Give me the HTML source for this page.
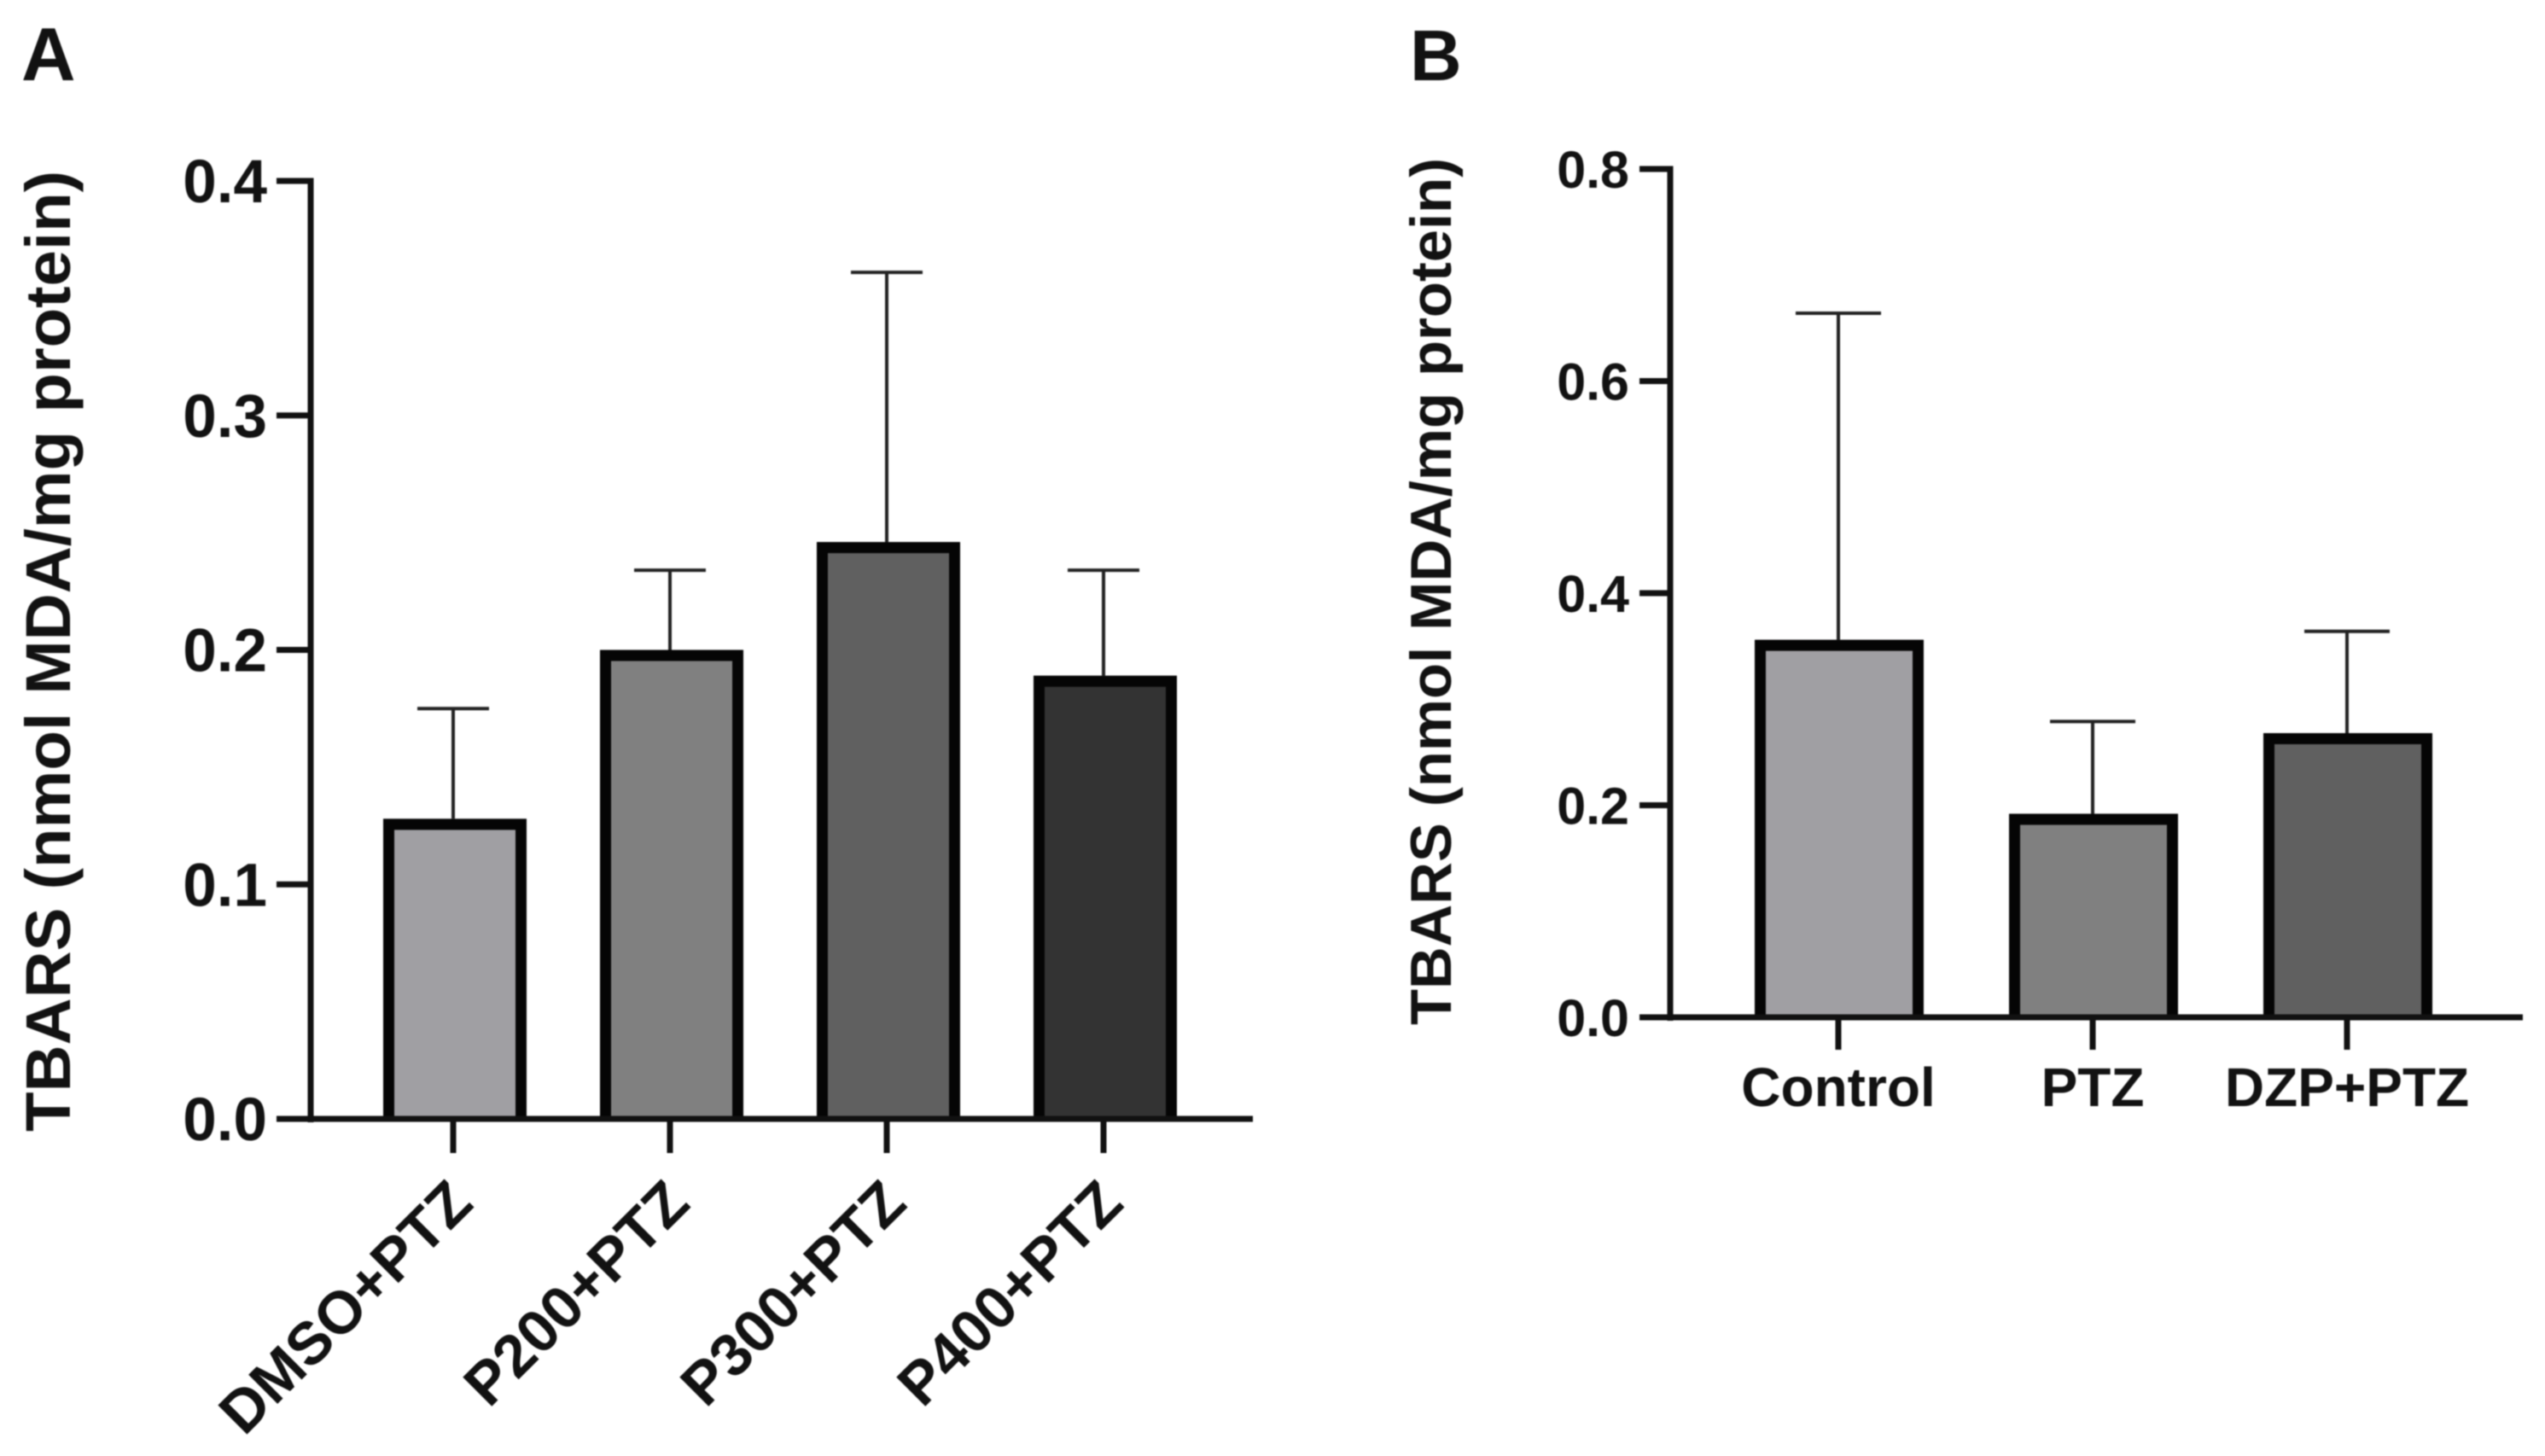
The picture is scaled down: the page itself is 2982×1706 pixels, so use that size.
<!DOCTYPE html>
<html>
<head>
<meta charset="utf-8">
<style>
html,body{margin:0;padding:0;background:#fff;}
svg{display:block;filter:blur(0.8px);}
text{font-family:"Liberation Sans",Arial,sans-serif;font-weight:bold;fill:#121212;}
</style>
</head>
<body>
<svg id="figure" xmlns="http://www.w3.org/2000/svg" width="2982" height="1706" viewBox="0 0 2982 1706">
<rect width="2982" height="1706" fill="#ffffff"/>
<text x="25" y="94" font-size="88">A</text>
<text x="1652" y="94" font-size="84">B</text>
<text transform="translate(82,763) rotate(-90)" text-anchor="middle" font-size="74" textLength="1126" lengthAdjust="spacingAndGlyphs">TBARS (nmol MDA/mg protein)</text>
<text transform="translate(1700,693) rotate(-90)" text-anchor="middle" font-size="68" textLength="1016" lengthAdjust="spacingAndGlyphs">TBARS (nmol MDA/mg protein)</text>
<g id="panel-a"></g>
<g id="panel-b"></g>
</svg>
<script>
const categoriesA = ['DMSO+PTZ', 'P200+PTZ', 'P300+PTZ', 'P400+PTZ'];
const meansA = [0.128, 0.2, 0.246, 0.189];
const errorTopsA = [0.175, 0.234, 0.361, 0.234];
const tickLabelsA = ['0.0', '0.1', '0.2', '0.3', '0.4'];
const categoriesB = ['Control', 'PTZ', 'DZP+PTZ'];
const meansB = [0.356, 0.192, 0.268];
const errorTopsB = [0.664, 0.279, 0.364];
const tickLabelsB = ['0.0', '0.2', '0.4', '0.6', '0.8'];
const fills = ['#a09fa3', '#808080', '#606060', '#333333'];

const NS = 'http://www.w3.org/2000/svg';

function make(parent, tag, attrs, name) {
  const el = document.createElementNS(NS, tag);
  for (const k in attrs) el.setAttribute(k, attrs[k]);
  
  
  parent.appendChild(el);
  return el;
}

function drawPanel(cfg) {
  const g = document.getElementById(cfg.id);
  const yScale = v => cfg.y0 + (cfg.y1 - cfg.y0) * (v - cfg.min) / (cfg.max - cfg.min);
  const xScale = i => cfg.x0 + cfg.step * i;

  cfg.means.forEach((m, i) => {
    const cx = xScale(i);
    const top = yScale(cfg.errs[i]);
    const barTop = yScale(m);
    const left = cx - cfg.barW / 2 + cfg.barShift;
    make(g, 'line', {x1: cx, x2: cx, y1: top, y2: barTop, stroke: '#222', 'stroke-width': 4}, 'error-bar-' + cfg.cats[i]);
    make(g, 'line', {x1: cx - cfg.cap, x2: cx + cfg.cap, y1: top, y2: top, stroke: '#222', 'stroke-width': 4}, 'error-cap-' + cfg.cats[i]);
    make(g, 'rect', {x: left, y: barTop, width: cfg.barW, height: cfg.y0 - barTop, fill: fills[i]}, 'bar-' + cfg.cats[i]);
    const s = cfg.sw / 2;
    make(g, 'path', {
      d: 'M' + (left + s) + ' ' + cfg.y0 + ' V' + (barTop + s) + ' H' + (left + cfg.barW - s) + ' V' + cfg.y0,
      fill: 'none', stroke: '#050505', 'stroke-width': cfg.sw
    }, 'bar-outline-' + cfg.cats[i]);
    make(g, 'line', {x1: cx, x2: cx, y1: cfg.y0, y2: cfg.y0 + cfg.xTick, stroke: '#111', 'stroke-width': 7}, 'x-tick-' + cfg.cats[i]);
    if (cfg.rotate) {
      const t = make(g, 'text', {
        transform: 'translate(' + (cx + cfg.lx) + ',' + (cfg.y0 + cfg.ly) + ') rotate(-45)',
        'text-anchor': 'end', 'font-size': cfg.xFont
      }, 'x-label-' + cfg.cats[i]);
      t.textContent = cfg.cats[i];
    } else {
      const t = make(g, 'text', {
        x: cx, y: cfg.y0 + cfg.ly, 'text-anchor': 'middle', 'font-size': cfg.xFont
      }, 'x-label-' + cfg.cats[i]);
      t.textContent = cfg.cats[i];
    }
  });

  cfg.ticks.forEach(label => {
    const v = parseFloat(label);
    const y = yScale(v);
    make(g, 'line', {x1: cfg.axisX - cfg.yTick, x2: cfg.axisX, y1: y, y2: y, stroke: '#111', 'stroke-width': 7}, 'y-tick-' + label);
    const t = make(g, 'text', {x: cfg.labelX, y: y + cfg.labelDy, 'text-anchor': 'end', 'font-size': cfg.yFont}, 'y-tick-label-' + label);
    t.textContent = label;
  });

  make(g, 'line', {x1: cfg.axisX, x2: cfg.axisX, y1: yScale(cfg.max) - 3.5, y2: cfg.y0 + 4, stroke: '#111', 'stroke-width': 7}, 'y-axis');
  make(g, 'line', {x1: cfg.axisX - cfg.yTick, x2: cfg.xEnd, y1: cfg.y0, y2: cfg.y0, stroke: '#111', 'stroke-width': 7}, 'x-axis');
}

drawPanel({
  id: 'panel-a', cats: categoriesA, means: meansA, errs: errorTopsA, ticks: tickLabelsA,
  min: 0, max: 0.4, y0: 1311, y1: 212, x0: 531, step: 254, barW: 168, barShift: 2, sw: 13, cap: 42,
  axisX: 364, yTick: 40, xEnd: 1468, xTick: 40, labelX: 313, labelDy: 25, yFont: 71,
  rotate: true, lx: 26, ly: 102, xFont: 70
});
drawPanel({
  id: 'panel-b', cats: categoriesB, means: meansB, errs: errorTopsB, ticks: tickLabelsB,
  min: 0, max: 0.8, y0: 1192, y1: 198, x0: 2154, step: 298, barW: 198, barShift: 1, sw: 13, cap: 50,
  axisX: 1957, yTick: 36, xEnd: 2956, xTick: 38, labelX: 1909, labelDy: 22, yFont: 61,
  rotate: false, lx: 0, ly: 104, xFont: 64
});
</script>
</body>
</html>
